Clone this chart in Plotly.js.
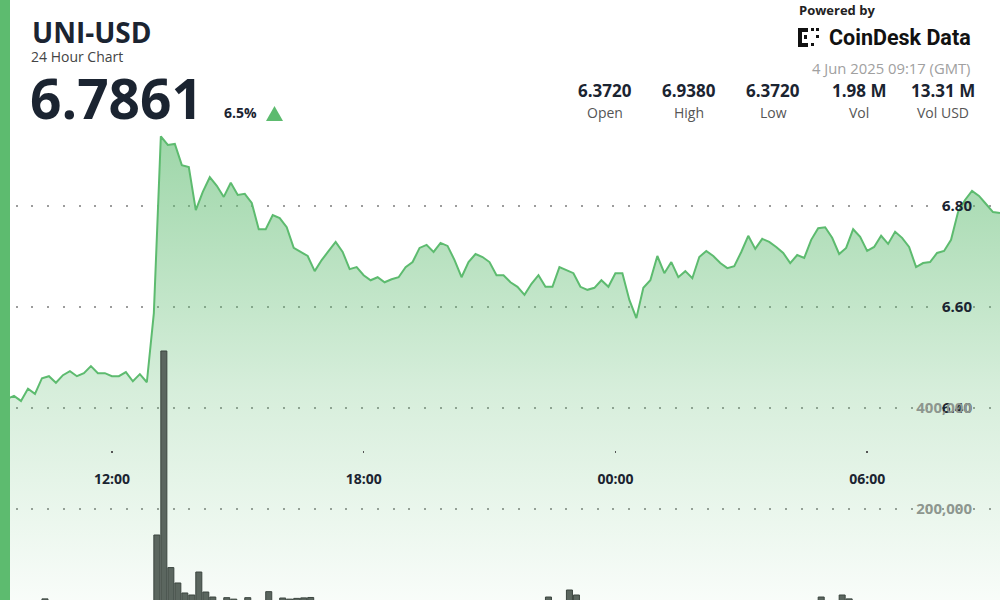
<!DOCTYPE html>
<html>
<head>
<meta charset="utf-8">
<script src="https://cdn.plot.ly/plotly-3.0.1.min.js"></script>
<style>
html,body{margin:0;padding:0;background:#fff;overflow:hidden;}
#chart{width:1000px;height:600px;}
</style>
</head>
<body>
<div id="chart"></div>
<script>
// ---- data ----
const startTime = '2025-06-03T09:20:00';
const stepMinutes = 10;

const prices = [
  6.372, 6.418, 6.424, 6.414, 6.438, 6.428, 6.459, 6.463, 6.450, 6.465,
  6.473, 6.463, 6.469, 6.483, 6.469, 6.469, 6.463, 6.463, 6.471, 6.453,
  6.467, 6.451, 6.588, 6.938, 6.921, 6.923, 6.881, 6.877, 6.792, 6.828,
  6.857, 6.840, 6.818, 6.846, 6.822, 6.824, 6.806, 6.754, 6.754, 6.782,
  6.776, 6.758, 6.717, 6.709, 6.701, 6.671, 6.693, 6.711, 6.729, 6.709,
  6.675, 6.679, 6.663, 6.653, 6.659, 6.649, 6.655, 6.659, 6.679, 6.689,
  6.717, 6.723, 6.709, 6.727, 6.721, 6.693, 6.659, 6.689, 6.705, 6.699,
  6.689, 6.663, 6.663, 6.649, 6.640, 6.624, 6.646, 6.663, 6.640, 6.640,
  6.679, 6.673, 6.667, 6.640, 6.634, 6.638, 6.653, 6.640, 6.667, 6.667,
  6.614, 6.578, 6.638, 6.653, 6.701, 6.667, 6.689, 6.659, 6.671, 6.657,
  6.699, 6.711, 6.701, 6.687, 6.677, 6.681, 6.709, 6.741, 6.715, 6.735,
  6.729, 6.719, 6.707, 6.687, 6.703, 6.697, 6.733, 6.756, 6.758, 6.737,
  6.705, 6.717, 6.754, 6.739, 6.711, 6.719, 6.741, 6.725, 6.749, 6.737,
  6.719, 6.679, 6.687, 6.689, 6.707, 6.711, 6.733, 6.788, 6.812, 6.830,
  6.820, 6.804, 6.788, 6.786
];

const volumes = [
  6000, 4500, 5200, 3800, 7000, 5500, 22000,
  8000, 4200, 3600, 5100, 6800, 4000, 3200, 5400, 4600, 3900, 7200, 4800, 5600, 9500, 12000,
  148500, 512900, 84000, 53500, 33700, 29700, 75200, 35600, 25700,
  17000, 24400, 21500, 18000, 24400, 15000, 17500, 36300, 16000, 23700, 21500, 23000, 24000, 24800,
  14000, 11000, 9000, 12500, 8000, 10500, 7000, 6500, 9000, 5500, 4800, 6200, 7500, 8800, 5200, 4300,
  6000, 3900, 5000, 7800, 6400, 4100, 5600, 4700, 3500, 6900, 5300, 4400, 7400, 8300, 6100, 9700, 12800,
  25700, 14500, 16500, 39600, 29700,
  15500, 9800, 7200, 6600, 8400, 5900, 7700, 13500, 17800, 11200,
  8600, 9900, 6300, 5400, 4900, 4500, 6700, 5800, 4200, 3700,
  5100, 4600, 3800, 6100, 7300, 5500, 4900, 4300, 5700, 6400,
  4800, 5200, 6900, 11500,
  25700, 14800, 12600, 29700, 22000,
  13200, 9400, 8100, 7600, 10200, 8900, 9300, 7100, 6800, 8700,
  7900, 6200, 8400, 9100, 12400, 16800, 18500, 15200, 11800, 9600,
  8200, 7400
];

const priceTicks = [6.40, 6.60, 6.80];
const priceTickText = ['6.40', '6.60', '6.80'];
const volumeTicks = [200000, 400000];

const symbol = 'UNI-USD';
const subtitle = '24 Hour Chart';
const lastPrice = '6.7861';
const changePct = '6.5%';
const statValues = ['6.3720', '6.9380', '6.3720', '1.98 M', '13.31 M'];
const statLabels = ['Open', 'High', 'Low', 'Vol', 'Vol USD'];
const poweredBy = 'Powered by';
const brand = 'CoinDesk Data';
const stamp = '4 Jun 2025 09:17 (GMT)';

// ---- time grid ----
function fmt(d){
  const p = n => String(n).padStart(2,'0');
  return d.getFullYear()+'-'+p(d.getMonth()+1)+'-'+p(d.getDate())+' '+p(d.getHours())+':'+p(d.getMinutes())+':00';
}
const t0 = new Date(startTime);
const times = prices.map((_, i) => fmt(new Date(t0.getTime() + i*stepMinutes*60000)));

// ---- layout helpers (pixel -> paper) ----
const W = 1000, H = 600, MT = 120;
const PH = H - MT;
const X = px => px / W;
const Y = py => (H - py) / PH;

const FONT = 'Open Sans, Noto Sans, sans-serif';
const DARK = '#1b2431';
const GREEN = '#5dbb6f';

const traces = [
  {
    x: times, y: prices, type: 'scatter', mode: 'lines',
    line: {color: GREEN, width: 2},
    fill: 'tozeroy',
    fillgradient: {
      type: 'vertical', start: 6.02, stop: 6.94,
      colorscale: [[0, 'rgba(93,187,111,0.04)'], [0.45, 'rgba(93,187,111,0.25)'], [1, 'rgba(93,187,111,0.6)']]
    },
    hoverinfo: 'skip'
  },
  {
    x: times, y: volumes, type: 'bar', yaxis: 'y2',
    width: 516000, offset: 0,
    marker: {color: '#5b665f', line: {color: '#3b453f', width: 1}},
    hoverinfo: 'skip'
  }
];

const annotations = [
  {text: symbol, x: X(30), y: Y(32), xanchor: 'left', yanchor: 'middle', font: {family: FONT, size: 28, color: DARK, weight: 700}},
  {text: subtitle, x: X(29), y: Y(56), xanchor: 'left', yanchor: 'middle', font: {family: FONT, size: 14, color: '#444'}},
  {text: lastPrice, x: X(28), y: Y(98), xanchor: 'left', yanchor: 'middle', font: {family: FONT, size: 55, color: DARK, weight: 700}},
  {text: changePct, x: X(222), y: Y(113), xanchor: 'left', yanchor: 'middle', font: {family: FONT, size: 14, color: DARK, weight: 700}},
  {text: poweredBy, x: X(797), y: Y(10), xanchor: 'left', yanchor: 'middle', font: {family: FONT, size: 13, color: '#222', weight: 700}},
  {text: brand, x: X(973), y: Y(38), xanchor: 'right', yanchor: 'middle', font: {family: 'Roboto, sans-serif', size: 21.5, color: '#111', weight: 700}},
  {text: stamp, x: X(972), y: Y(68), xanchor: 'right', yanchor: 'middle', font: {family: FONT, size: 14.8, color: '#a0a0a0'}}
];
const statCenters = [605, 689, 773, 859, 943];
statValues.forEach((v, i) => {
  annotations.push({text: v, x: X(statCenters[i]), y: Y(90), xanchor: 'center', yanchor: 'middle', font: {family: FONT, size: 17, color: DARK, weight: 700}});
  annotations.push({text: statLabels[i], x: X(statCenters[i]), y: Y(112), xanchor: 'center', yanchor: 'middle', font: {family: FONT, size: 14, color: '#555'}});
});
annotations.forEach(a => { a.xref = 'paper'; a.yref = 'paper'; a.showarrow = false; });

function rect(x0, y0, x1, y1, color){
  return {type: 'rect', xref: 'paper', yref: 'paper', x0: X(x0), x1: X(x1), y0: Y(y1), y1: Y(y0), fillcolor: color, line: {width: 0}, layer: 'above'};
}
const shapes = [
  rect(0, 0, 10, 600, GREEN),
  {type: 'path', xref: 'paper', yref: 'paper', layer: 'above', fillcolor: GREEN, line: {width: 0},
   path: 'M ' + X(266) + ',' + Y(121) + ' L ' + X(283) + ',' + Y(121) + ' L ' + X(274.5) + ',' + Y(106) + ' Z'},
  // logo mark
  rect(798, 28, 802, 47, '#111'),
  rect(798, 28, 808, 32, '#111'),
  rect(798, 43, 808, 47, '#111'),
  rect(804, 35, 807, 39, '#111'),
  rect(811, 28, 814, 31, '#111'),
  rect(811, 43, 814, 46, '#111'),
  rect(816, 28, 819, 31, '#111'),
  rect(816, 35, 819, 38, '#111')
];

const gridStyle = {showgrid: true, gridcolor: '#9c9c9c', gridwidth: 1.5, griddash: '2px,13.7px', zeroline: false, showline: false, ticks: ''};

const layout = {
  width: W, height: H,
  margin: {l: 0, r: 0, t: MT, b: 0, pad: 0},
  paper_bgcolor: '#ffffff', plot_bgcolor: '#ffffff',
  showlegend: false,
  bargap: 0,
  xaxis: {
    type: 'date', range: [times[0], times[times.length - 1]],
    anchor: 'free', position: (H - 450) / PH,
    showgrid: false, zeroline: false, showline: false,
    ticks: 'outside', ticklen: 2, tickwidth: 1.5, tickcolor: '#555',
    tick0: '2025-06-03 00:00', dtick: 21600000, tickformat: '%H:%M',
    ticklabelstandoff: 14,
    tickfont: {family: FONT, size: 14, color: DARK, weight: 700}
  },
  yaxis: Object.assign({
    range: [6.0198, 6.9703], anchor: 'free', position: 0.975, side: 'right',
    ticklabelposition: 'inside', tickvals: priceTicks, ticktext: priceTickText,
    tickfont: {family: FONT, size: 15, color: DARK, weight: 700}
  }, gridStyle),
  yaxis2: Object.assign({
    overlaying: 'y', range: [19802, 970297], anchor: 'free', position: 0.975, side: 'right',
    ticklabelposition: 'inside', tickvals: volumeTicks, tickformat: ',d',
    tickfont: {family: FONT, size: 15, color: '#8d968f', weight: 700}
  }, gridStyle),
  annotations: annotations,
  shapes: shapes
};

Plotly.newPlot('chart', traces, layout, {displayModeBar: false, staticPlot: true});
</script>
</body>
</html>
